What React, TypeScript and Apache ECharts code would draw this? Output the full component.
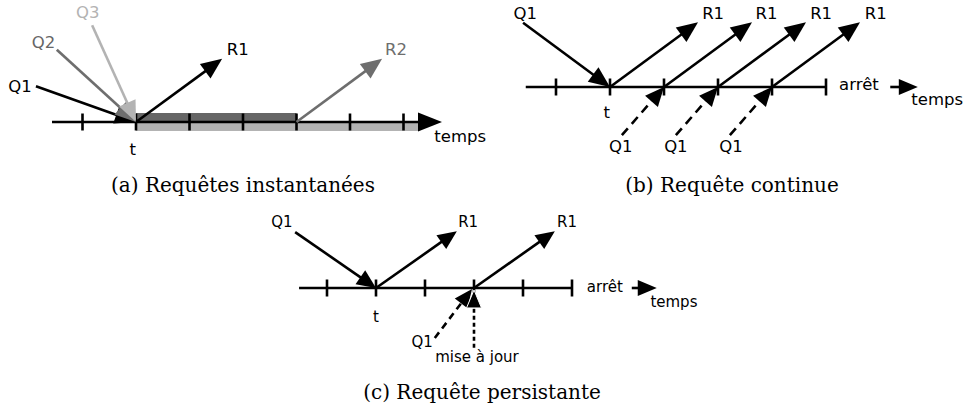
import React, { useEffect, useRef } from "react";
import * as echarts from "echarts";

// ---------- Panel (a): instantaneous queries (x = time ticks, y = height above the time axis, in tick units)
const ticksA = [-1, 0, 1, 2, 3, 4, 5];
const axisA = [-1.57, 5.72]; // start of time axis, arrow tip
const barsA = [
  [0, 3, 0, 0.17],
  [0, 5.29, -0.17, 0],
]; // t0, t1, h0, h1
const barColorsA = ["#666666", "#b3b3b3"];
const arrowsA = [
  [-1.87, 0.67, 0, 0],
  [-1.48, 1.35, 0, 0],
  [-0.82, 1.81, 0, 0],
  [0, 0, 1.61, 1.18],
  [3, 0, 4.6, 1.18],
];
const arrowColorsA = ["#000000", "#6e6e6e", "#b3b3b3", "#000000", "#6e6e6e"];
const labelsA = ["Q1", "Q2", "Q3", "R1", "R2", "t", "temps"];
const labelPosA = [
  [-2.17, 0.67],
  [-1.73, 1.48],
  [-0.9, 2.05],
  [1.9, 1.35],
  [4.86, 1.35],
  [-0.06, -0.52],
  [6.06, -0.27],
];
const labelColorsA = ["#000000", "#666666", "#b3b3b3", "#000000", "#6e6e6e", "#000000", "#000000"];

// ---------- Panel (b): continuous query
const ticksB = [-1, 0, 1, 2, 3, 4];
const axisB = [-1.56, 4];
const stopArrowB = [5.19, 5.7];
const arrowsB = [
  [-1.61, 1.19, 0, 0],
  [0, 0, 1.63, 1.2],
  [1, 0, 2.63, 1.2],
  [2, 0, 3.63, 1.2],
  [3, 0, 4.63, 1.2],
];
const dashedB = [
  [0.22, -0.89, 1, 0],
  [1.22, -0.89, 2, 0],
  [2.22, -0.89, 3, 0],
];
const labelsB = ["Q1", "R1", "R1", "R1", "R1", "Q1", "Q1", "Q1", "t", "arrêt", "temps"];
const labelPosB = [
  [-1.57, 1.37],
  [1.91, 1.37],
  [2.9, 1.37],
  [3.91, 1.37],
  [4.92, 1.37],
  [0.2, -1.11],
  [1.22, -1.11],
  [2.24, -1.11],
  [-0.06, -0.48],
  [4.61, 0.04],
  [6.06, -0.24],
];

// ---------- Panel (c): persistent query
const ticksC = [-1, 0, 1, 2, 3, 4];
const axisC = [-1.57, 4];
const stopArrowC = [5.22, 5.73];
const arrowsC = [
  [-1.65, 1.14, 0, 0],
  [0, 0, 1.65, 1.16],
  [2, 0, 3.65, 1.16],
];
const dashedC = [[1.2, -1.02, 1.96, -0.02]];
const dottedC = [[2, -1.22, 2, -0.04]];
const labelsC = ["Q1", "R1", "R1", "Q1", "mise à jour", "t", "arrêt", "temps"];
const labelPosC = [
  [-1.92, 1.35],
  [1.88, 1.35],
  [3.9, 1.35],
  [0.94, -1.1],
  [2.06, -1.41],
  [0, -0.59],
  [4.67, 0.02],
  [6.08, -0.29],
];

const captions = ["(a) Requêtes instantanées", "(b) Requête continue", "(c) Requête persistante"];

// ---------- layout (pixels)
const SANS = '"DejaVu Sans", sans-serif';
const SERIF = '"DejaVu Serif", serif';

type Pt = number[];

function arrowEls(p1: Pt, p2: Pt, color: string, lw: number, headLen: number, headHalf: number, dash?: number[], headStroke?: string) {
  const dx = p2[0] - p1[0];
  const dy = p2[1] - p1[1];
  const L = Math.hypot(dx, dy) || 1;
  const ux = dx / L;
  const uy = dy / L;
  const bx = p2[0] - ux * headLen;
  const by = p2[1] - uy * headLen;
  const nx = -uy;
  const ny = ux;
  return [
    {
      type: "line",
      shape: { x1: p1[0], y1: p1[1], x2: bx + ux * 2, y2: by + uy * 2 },
      style: { stroke: color, lineWidth: lw, lineDash: dash || null, fill: null },
    },
    {
      type: "polygon",
      shape: {
        points: [
          [p2[0], p2[1]],
          [bx + nx * headHalf, by + ny * headHalf],
          [bx - nx * headHalf, by - ny * headHalf],
        ],
      },
      style: headStroke ? { fill: color, stroke: headStroke, lineWidth: 1 } : { fill: color },
    },
  ];
}

function textEl(p: Pt, text: string, color: string, size: number) {
  return {
    type: "text",
    x: p[0],
    y: p[1],
    style: {
      text,
      fill: color,
      font: `${size}px ${SANS}`,
      align: "center",
      verticalAlign: "middle",
      textAlign: "center",
      textVerticalAlign: "middle",
    },
  };
}

function gridRect(ox: number, oy: number, unit: number, xmin: number, xmax: number, ymin: number, ymax: number) {
  return {
    left: ox + xmin * unit,
    top: oy - ymax * unit,
    width: (xmax - xmin) * unit,
    height: (ymax - ymin) * unit,
  };
}

const panels = [
  { ox: 136, oy: 122, unit: 53.5, x: [-2.5, 6.5], y: [-1.5, 2.2] },
  { ox: 610, oy: 87, unit: 54, x: [-1.6, 6.5], y: [-1.2, 1.5] },
  { ox: 376, oy: 288, unit: 49, x: [-2, 6.5], y: [-1.6, 1.5] },
];

function axisSeries(idx: number, ticks: number[], axis: number[], stop: number[] | null, head: number[], stopHead: number[]) {
  return {
    type: "custom",
    xAxisIndex: idx,
    yAxisIndex: idx,
    silent: true,
    z: 3,
    data: [[axis[0], 0]],
    renderItem: (_p: any, api: any) => {
      const children: any[] = [];
      const a = api.coord([axis[0], 0]);
      const b = api.coord([axis[1], 0]);
      if (stop) {
        children.push({
          type: "line",
          shape: { x1: a[0], y1: a[1], x2: b[0], y2: b[1] },
          style: { stroke: "#000", lineWidth: 2.6 },
        });
        const s1 = api.coord([stop[0], 0]);
        const s2 = api.coord([stop[1], 0]);
        children.push(...arrowEls(s1, s2, "#000", 2.6, stopHead[0], stopHead[1]));
      } else {
        children.push(...arrowEls(a, b, "#000", 2.6, head[0], head[1]));
      }
      ticks.forEach((t) => {
        const p = api.coord([t, 0]);
        children.push({
          type: "line",
          shape: { x1: p[0], y1: p[1] - 8.5, x2: p[0], y2: p[1] + 8.5 },
          style: { stroke: "#000", lineWidth: 2.6 },
        });
      });
      return { type: "group", children };
    },
  };
}

function arrowSeries(idx: number, data: number[][], colors: string[] | string, head: number[], z: number, dash?: number[], headStroke?: string) {
  return {
    type: "custom",
    xAxisIndex: idx,
    yAxisIndex: idx,
    silent: true,
    z,
    data,
    renderItem: (params: any, api: any) => {
      const d = data[params.dataIndex];
      const p1 = api.coord([d[0], d[1]]);
      const p2 = api.coord([d[2], d[3]]);
      const c = Array.isArray(colors) ? colors[params.dataIndex] : colors;
      return { type: "group", children: arrowEls(p1, p2, c, 2.6, head[0], head[1], dash, headStroke) };
    },
  };
}

function labelSeries(idx: number, pos: number[][], texts: string[], colors: string[] | string, size: number) {
  return {
    type: "custom",
    xAxisIndex: idx,
    yAxisIndex: idx,
    silent: true,
    z: 10,
    data: pos,
    renderItem: (params: any, api: any) => {
      const d = pos[params.dataIndex];
      const p = api.coord([d[0], d[1]]);
      const c = Array.isArray(colors) ? colors[params.dataIndex] : colors;
      return textEl(p, texts[params.dataIndex], c, size);
    },
  };
}

function barSeries(idx: number, data: number[][], colors: string[]) {
  return {
    type: "custom",
    xAxisIndex: idx,
    yAxisIndex: idx,
    silent: true,
    z: 1,
    data,
    renderItem: (params: any, api: any) => {
      const d = data[params.dataIndex];
      const p1 = api.coord([d[0], d[3]]);
      const p2 = api.coord([d[1], d[2]]);
      return {
        type: "rect",
        shape: { x: p1[0], y: p1[1], width: p2[0] - p1[0], height: p2[1] - p1[1] },
        style: { fill: colors[params.dataIndex] },
      };
    },
  };
}

export default function App() {
  const ref = useRef<HTMLDivElement>(null);
  useEffect(() => {
    if (!ref.current) return;
    const chart = echarts.init(ref.current, null, { renderer: "svg" });
    const grids = panels.map((p) => ({ ...gridRect(p.ox, p.oy, p.unit, p.x[0], p.x[1], p.y[0], p.y[1]), show: false }));
    const xAxis = panels.map((p, i) => ({ type: "value", gridIndex: i, min: p.x[0], max: p.x[1], show: false }));
    const yAxis = panels.map((p, i) => ({ type: "value", gridIndex: i, min: p.y[0], max: p.y[1], show: false }));
    const option: any = {
      animation: false,
      backgroundColor: "#ffffff",
      grid: grids,
      xAxis,
      yAxis,
      series: [
        // panel a
        barSeries(0, barsA, barColorsA),
        axisSeries(0, ticksA, axisA, null, [24, 9.5], [0, 0]),
        arrowSeries(0, arrowsA, arrowColorsA, [21, 9], 5),
        labelSeries(0, labelPosA, labelsA, labelColorsA, 16.5),
        // panel b
        axisSeries(1, ticksB, axisB, stopArrowB, [0, 0], [19, 8]),
        arrowSeries(1, arrowsB, "#000000", [21, 9], 5),
        arrowSeries(1, dashedB, "#000000", [19, 8.5], 5, [9, 6]),
        labelSeries(1, labelPosB, labelsB, "#000000", 16.5),
        // panel c
        axisSeries(2, ticksC, axisC, stopArrowC, [0, 0], [19, 8]),
        arrowSeries(2, arrowsC, "#000000", [19, 8.5], 5),
        arrowSeries(2, dashedC, "#000000", [18, 8], 5, [7, 5]),
        arrowSeries(2, dottedC, "#000000", [18, 7.5], 6, [4, 3], "#ffffff"),
        labelSeries(2, labelPosC, labelsC, "#000000", 15),
      ],
      graphic: [
        { x: 243, y: 185 },
        { x: 732, y: 185 },
        { x: 482, y: 392 },
      ].map((p, i) => ({
        type: "text",
        x: p.x,
        y: p.y,
        silent: true,
        style: {
          text: captions[i],
          fill: "#000000",
          font: `20px ${SERIF}`,
          align: "center",
          verticalAlign: "middle",
          textAlign: "center",
          textVerticalAlign: "middle",
        },
      })),
    };
    chart.setOption(option);
    return () => chart.dispose();
  }, []);
  return <div ref={ref} style={{ position: "fixed", left: 0, top: 0, width: 966, height: 410, background: "#fff" }} />;
}
